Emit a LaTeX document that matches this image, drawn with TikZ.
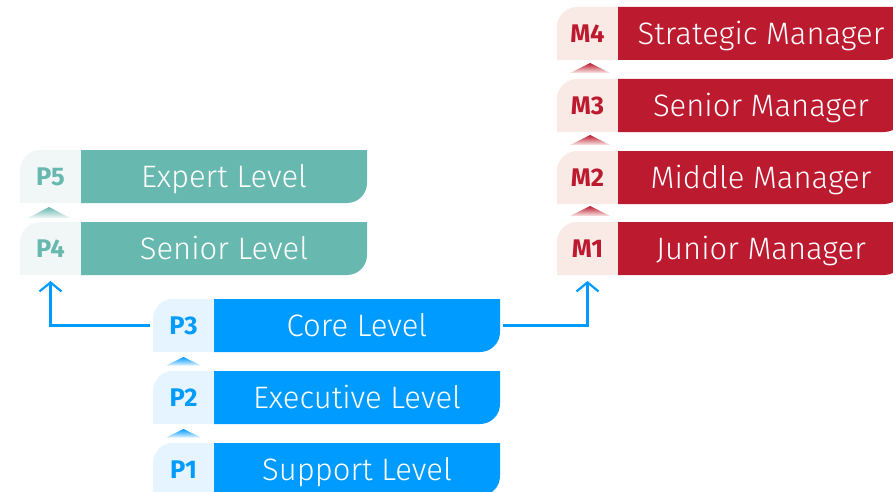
\documentclass[tikz,border=0pt]{standalone}
\usepackage{fontspec}
\setmainfont{Fira Sans}[UprightFont=* Light, BoldFont=* Bold]
\usetikzlibrary{arrows.meta,calc}
\definecolor{tealM}{HTML}{67B8AE}
\definecolor{tealL}{HTML}{F1F7F7}
\definecolor{blueM}{HTML}{009BFF}
\definecolor{blueL}{HTML}{E5F4FF}
\definecolor{redM}{HTML}{BC1A2F}
\definecolor{redL}{HTML}{F9EAE6}
\tikzset{
  maintext/.style={text=white, font=\fontsize{31}{36}\selectfont, inner sep=0pt, text height=21.4pt, text depth=0pt, anchor=center},
  labtext/.style={font=\bfseries\fontsize{25.5}{30}\selectfont, inner sep=0pt, text height=17.6pt, text depth=0pt, anchor=center},
  barbox/.style={minimum width=347pt, minimum height=53pt, inner sep=0pt, outer sep=0pt},
  labbox/.style={minimum width=61pt, minimum height=53pt, inner sep=0pt, outer sep=0pt},
  conn/.style={draw=blueM, line width=2.2pt, -{Straight Barb[length=9pt,width=22pt]}},
}
% #1 name, #2 x0, #3 top (image y), #4 light, #5 main, #6 label, #7 text
\newcommand{\levelbar}[7]{%
  \pgfmathsetmacro{\Tp}{491-#3}%
  \pgfmathsetmacro{\Bt}{\Tp-53}%
  \fill[#4] (#2,\Bt) -- (#2,\Tp-20) arc[start angle=180,end angle=90,radius=20] -- (#2+61,\Tp) -- (#2+61,\Bt) -- cycle;
  \fill[#5] (#2+61,\Bt) -- (#2+61,\Tp) -- (#2+347,\Tp) -- (#2+347,\Bt+20) arc[start angle=0,end angle=-90,radius=20] -- cycle;
  \node[barbox, anchor=north west] (#1) at (#2,\Tp) {};
  \node[labbox, anchor=north west] (#1l) at (#2,\Tp) {};
  \node[labtext, text=#5] (#1lt) at (#1l.center) {#6};
  \node[maintext] (#1t) at ($(#2+61,\Tp-26.5)!0.5!(#2+347,\Tp-26.5)$) {#7};
}
% triangle: #1 x center, #2 apex image y, #3 half width, #4 height, #5 color, #6 light
\newcommand{\uptri}[6]{%
  \pgfmathsetmacro{\Ay}{491-#2}%
  \shade[top color=#5, bottom color=#6] (#1-#3,\Ay-#4) -- (#1,\Ay) -- (#1+#3,\Ay-#4) -- cycle;
}
\begin{document}
\begin{tikzpicture}[x=1pt,y=1pt]
\useasboundingbox (0,0) rectangle (893,491);
\begin{scope}
\clip (0,0) rectangle (893,491);
% left column
\levelbar{P5}{20}{150}{tealL}{tealM}{P5}{Expert Level}
\levelbar{P4}{20}{222}{tealL}{tealM}{P4}{Senior Level}
\uptri{49}{207}{21}{11}{tealM}{tealL}
% middle column
\levelbar{P3}{153}{299}{blueL}{blueM}{P3}{Core Level}
\levelbar{P2}{153}{371}{blueL}{blueM}{P2}{Executive Level}
\levelbar{P1}{153}{443}{blueL}{blueM}{P1}{Support Level}
\uptri{183.5}{357}{17.5}{8.5}{blueM}{blueL}
\uptri{183.5}{429}{17.5}{8.5}{blueM}{blueL}
% right column
\levelbar{M4}{557}{7}{redL}{redM}{M4}{Strategic Manager}
\levelbar{M3}{557}{79}{redL}{redM}{M3}{Senior Manager}
\levelbar{M2}{557}{151}{redL}{redM}{M2}{Middle Manager}
\levelbar{M1}{557}{222}{redL}{redM}{M1}{Junior Manager}
\uptri{590}{63}{20}{10}{redM}{redL}
\uptri{590}{135}{20}{10}{redM}{redL}
\uptri{590}{206}{20}{10}{redM}{redL}
\end{scope}
% connectors
\draw[conn] ([xshift=-3pt]P3.west) -| ([yshift=-6pt]P4l.south);
\draw[conn] ([xshift=3pt]P3.east) -| ([yshift=-6pt]M1l.south);
\end{tikzpicture}
\end{document}
